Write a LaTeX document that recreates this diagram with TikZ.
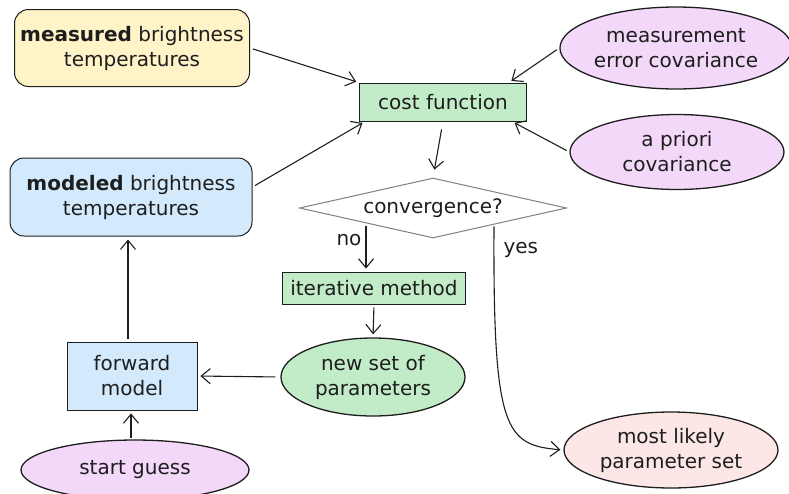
\documentclass[tikz,border=0pt]{standalone}
\usepackage{fontspec}
\setmainfont{DejaVu Sans}
\usetikzlibrary{arrows.meta,positioning,shapes.geometric}

\definecolor{ink}{HTML}{1E1E1E}
\definecolor{yelfill}{HTML}{FFF4C8}
\definecolor{grnfill}{HTML}{C2EBC8}
\definecolor{blufill}{HTML}{D3EAFC}
\definecolor{purfill}{HTML}{F3D8F9}
\definecolor{pnkfill}{HTML}{FDE6E6}

\begin{document}
\begin{tikzpicture}[x=1pt,y=-1pt,
      font=\fontsize{20}{25}\selectfont,
      every node/.style={text=ink,align=center,inner sep=0pt},
      rbox/.style={draw=ink,line width=1pt,rounded corners=14pt},
      sbox/.style={draw=ink,line width=0.8pt},
      oval/.style={draw=ink,line width=1.3pt,ellipse},
      arr/.style={-{Straight Barb[length=9pt,width=15pt]},line width=1.1pt,draw=ink,shorten >=3pt,shorten <=3pt}
    ]
      \useasboundingbox (0,0) rectangle (789,493);
      % left column
      \node[rbox,fill=yelfill,minimum width=235pt,minimum height=77pt] (meas) at (132,48) {\textbf{measured} brightness\\temperatures};
      \node[rbox,fill=blufill,minimum width=242pt,minimum height=78pt] (model) at (131,197) {\textbf{modeled} brightness\\temperatures};
      \node[sbox,fill=blufill,minimum width=130pt,minimum height=68pt] (fwd) at (132,376) {forward\\model};
      \node[oval,fill=purfill,minimum width=228pt,minimum height=60pt] (start) at (135,470) {start guess};
      % middle column
      \node[sbox,fill=grnfill,minimum width=167pt,minimum height=38pt] (cost) at (443,102) {cost function};
      \node[diamond,aspect=4.45,draw=gray,line width=1pt,minimum width=267pt,minimum height=60pt] (conv) at (433,208) {convergence?};
      \node[sbox,fill=grnfill,minimum width=183pt,minimum height=32pt] (iter) at (374,288) {iterative method};
      \node[oval,fill=grnfill,minimum width=184pt,minimum height=78pt] (newpar) at (373,377) {new set of\\parameters};
      % right column
      \node[oval,fill=purfill,minimum width=212pt,minimum height=82pt] (errcov) at (676,48) {measurement\\error covariance};
      \node[oval,fill=purfill,minimum width=214pt,minimum height=75pt] (apriori) at (677,152) {a priori\\covariance};
      \node[oval,fill=pnkfill,minimum width=214pt,minimum height=76pt] (best) at (671,450) {most likely\\parameter set};

      \draw[arr] (meas.east) -- (cost.north west);
      \draw[arr] (errcov.west) -- ([xshift=-18pt]cost.north east);
      \draw[arr] ([yshift=10pt]model.east) -- ([xshift=6pt]cost.south west);
      \draw[arr] (apriori.west) -- ([xshift=-15pt]cost.south east);
      \draw[arr,shorten <=8pt,shorten >=8pt] (cost.south) -- (conv.north);
      \draw[arr] (conv.south west) -- (conv.south west |- iter.north) node[pos=0.35,left=4pt] {no};
      \draw[arr] ([xshift=-6pt]conv.south east) .. controls (493,430) and (505,445) .. (best.west) node[pos=0.045,right=9pt] {yes};
      \draw[arr] (iter.south) -- (newpar.north);
      \draw[arr,shorten <=5pt] (newpar.west) -- (fwd.east);
      \draw[arr] ([xshift=-4pt]fwd.north) -- ([xshift=-3pt]model.south);
      \draw[arr,shorten <=1pt] ([xshift=-4pt]start.north) -- ([xshift=-1pt]fwd.south);
    \end{tikzpicture}
\end{document}
